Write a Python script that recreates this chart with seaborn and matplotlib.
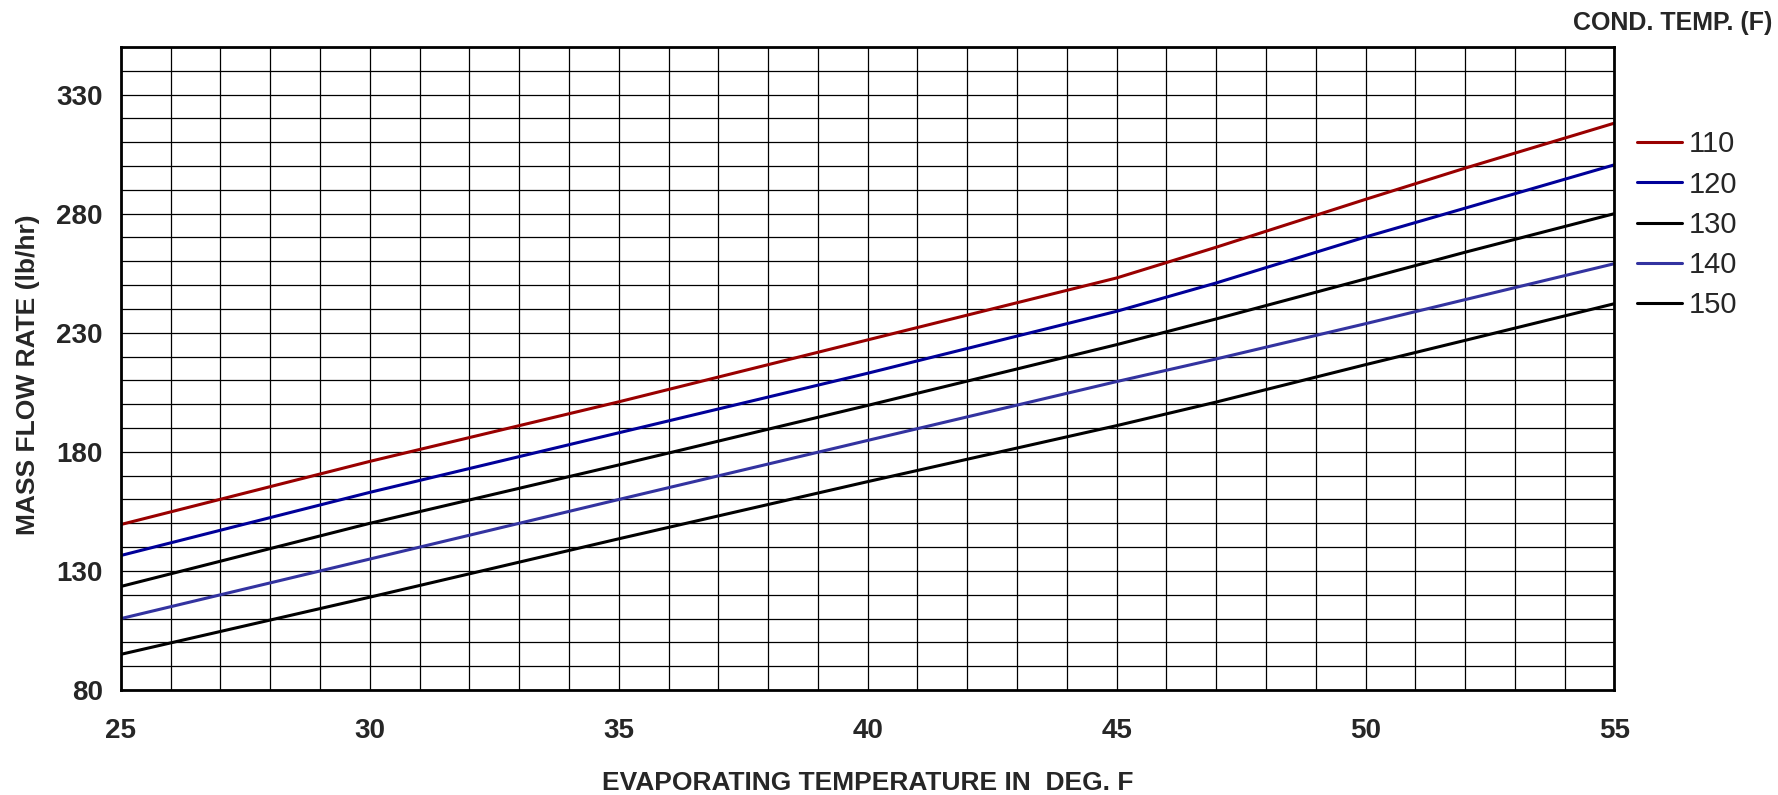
import pandas as pd
import matplotlib.pyplot as plt
import matplotlib.ticker as mticker
import seaborn as sns

# Data (mass flow rate, lb/hr)
evap_temp = [25, 30, 35, 40, 45, 47, 50, 52, 55]
cond_temps = ["110", "120", "130", "140", "150"]
flow_110 = [149.5, 176, 201, 227, 253, 265.9, 286, 299.1, 318]
flow_120 = [136.5, 163, 188, 213, 239, 250.9, 270.2, 282.3, 300.5]
flow_130 = [123.5, 150, 174.5, 199.5, 225, 235.8, 252.6, 263.8, 280]
flow_140 = [110, 135, 160, 184.8, 209.5, 219, 233.8, 243.9, 259]
flow_150 = [95, 119, 143.5, 167.5, 191, 200.9, 216.6, 226.8, 242.2]

series = [flow_110, flow_120, flow_130, flow_140, flow_150]
rows = []
for label, vals in zip(cond_temps, series):
    for x, y in zip(evap_temp, vals):
        rows.append({"evap": x, "flow": y, "cond": label})
df = pd.DataFrame(rows)

palette = {"110": "#990000", "120": "#000099", "130": "#000000",
           "140": "#3333a0", "150": "#000000"}

sns.set_style("white")
plt.rcParams['font.family'] = ['Liberation Sans', 'DejaVu Sans']

fig = plt.figure(figsize=(17.78, 7.95), dpi=100)
ax = fig.add_axes([0.068, 0.132, 0.840, 0.809])

sns.lineplot(data=df, x="evap", y="flow", hue="cond", palette=palette,
             linewidth=2.2, ax=ax, legend=False)

# Axes and grid
ax.set_xlim(25, 55)
ax.set_ylim(80, 350)
ax.xaxis.set_major_locator(mticker.MultipleLocator(5))
ax.xaxis.set_minor_locator(mticker.MultipleLocator(1))
ax.yaxis.set_major_locator(mticker.FixedLocator([80, 130, 180, 230, 280, 330]))
ax.yaxis.set_minor_locator(mticker.MultipleLocator(10))
ax.grid(which="both", color="black", linewidth=0.9)
ax.set_axisbelow(True)
for sp in ax.spines.values():
    sp.set_linewidth(2)
    sp.set_color("black")
ax.tick_params(which="major", direction="out", length=7, width=1,
               labelsize=20, pad=6, color="#555555")
ax.tick_params(axis="x", which="major", pad=13)
ax.tick_params(which="minor", length=0)
for lbl in ax.get_xticklabels() + ax.get_yticklabels():
    lbl.set_fontweight("bold")

# Labels
ax.set_xlabel("EVAPORATING TEMPERATURE IN  DEG. F", fontsize=19,
              fontweight="bold", va="center")
ax.xaxis.set_label_coords(0.5, -0.145)
ax.set_ylabel("MASS FLOW RATE (lb/hr)", fontsize=19, fontweight="bold",
              va="center")
ax.yaxis.set_label_coords(-0.062, 0.49)

# Legend
handles = ax.get_lines()[:len(cond_temps)]
fig.legend(handles, cond_temps, loc="upper left",
           bbox_to_anchor=(0.9207, 0.836), frameon=False, fontsize=21,
           handlelength=1.55, handletextpad=0.22, labelspacing=0.42,
           borderpad=0, borderaxespad=0)
fig.text(0.9966, 1 - 23 / 795, "COND. TEMP. (F)", ha="right", va="center",
         fontsize=18, fontweight="bold")

plt.savefig("out.png", dpi=100)
